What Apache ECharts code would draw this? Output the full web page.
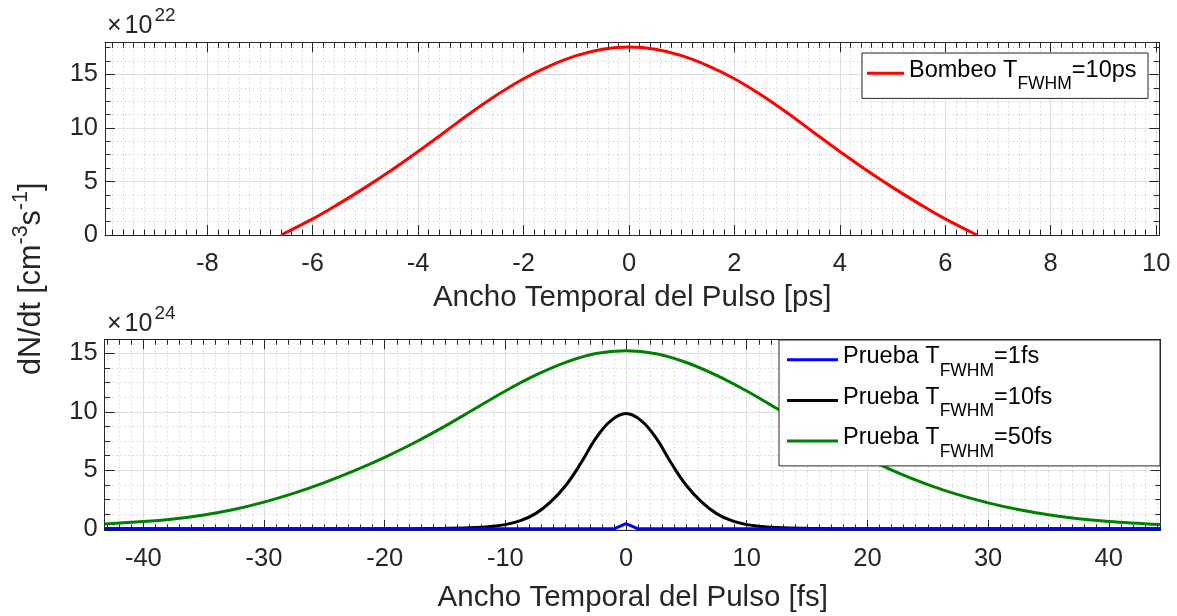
<!DOCTYPE html>
<html>
<head>
<meta charset="utf-8">
<title>dN/dt</title>
<script src="https://cdn.jsdelivr.net/npm/echarts@6/dist/echarts.min.js"></script>
<style>
  html, body { margin: 0; padding: 0; background: #ffffff; }
  #chart { width: 1177px; height: 616px; }
</style>
</head>
<body>
<div id="chart"></div>
<script>
// ---- Pump pulse, time in ps, rate in units of 1e22 cm^-3 s^-1 ----
const pumpTimePs = [-6.6, -6, -5.5, -5, -4.5, -4, -3.5, -3, -2.5, -2, -1.5, -1, -0.5, 0,
                    0.5, 1, 1.5, 2, 2.5, 3, 3.5, 4, 4.5, 5, 5.5, 6, 6.6];
const pumpRate   = [0, 1.5, 2.93, 4.45, 6.07, 7.8, 9.6, 11.42, 13.1, 14.6, 15.8, 16.75, 17.35, 17.55,
                    17.35, 16.75, 15.8, 14.6, 13.1, 11.42, 9.6, 7.8, 6.07, 4.45, 2.93, 1.5, 0];

// ---- Probe pulses, time in fs, rate in units of 1e24 cm^-3 s^-1 ----
const probe1Time = [-43.2, -1, 0, 1, 44.3];
const probe1Rate = [0, 0, 0.45, 0, 0];

const probe10Time = [-43.2, -20, -17.5, -15, -12.5, -11.25, -10, -8.75, -7.5, -6.25, -5, -3.75, -2.5, -1.25, 0,
                     1.25, 2.5, 3.75, 5, 6.25, 7.5, 8.75, 10, 11.25, 12.5, 15, 17.5, 20, 44.3];
const probe10Rate = [0, 0, 0.01, 0.04, 0.11, 0.2, 0.36, 0.7, 1.3, 2.3, 3.7, 5.6, 7.75, 9.25, 9.85,
                     9.25, 7.75, 5.6, 3.7, 2.3, 1.3, 0.7, 0.36, 0.2, 0.11, 0.04, 0.01, 0, 0];

const probe50Time = [-43.2, -40, -37.5, -35, -32.5, -30, -27.5, -25, -22.5, -20, -17.5, -15, -12.5,
                     -10, -7.5, -5, -2.5, 0, 2.5, 5, 7.5, 10, 12.5, 15, 17.5, 20, 22.5, 25, 27.5,
                     30, 32.5, 35, 37.5, 40, 44.3];
const probe50Rate = [0.42, 0.62, 0.85, 1.18, 1.65, 2.28, 3.05, 3.95, 4.97, 6.11, 7.38, 8.78, 10.28,
                     11.78, 13.13, 14.23, 14.98, 15.22, 14.97, 14.22, 13.12, 11.78, 10.28, 8.78, 7.33,
                     6.0, 4.8, 3.78, 2.92, 2.22, 1.65, 1.2, 0.87, 0.63, 0.36];

// ---- Labels ----
const seriesNames = ['Bombeo 10ps', 'Prueba 1fs', 'Prueba 10fs', 'Prueba 50fs'];
const legendLabels = {
  'Bombeo 10ps': '{m|Bombeo T}{s|FWHM}{m|=10ps}',
  'Prueba 1fs':  '{m|Prueba T}{s|FWHM}{m|=1fs}',
  'Prueba 10fs': '{m|Prueba T}{s|FWHM}{m|=10fs}',
  'Prueba 50fs': '{m|Prueba T}{s|FWHM}{m|=50fs}'
};
const xTitles = ['Ancho Temporal del Pulso [ps]', 'Ancho Temporal del Pulso [fs]'];
const yTitle = '{m|dN/dt [cm}{p|-3}{m|s}{p|-1}{m|]}';
const exponents = ['22', '24'];

// ---- Styling ----
const AX = '#262626';
const FONT = '"Liberation Sans", Arial, Helvetica, sans-serif';
const MAJOR_GRID = '#dfdfdf';
const MINOR_GRID = '#c2c2c2';

const zip = (xs, ys) => xs.map((x, i) => [x, ys[i]]);
const tickFmt = step => v =>
  Math.abs(v / step - Math.round(v / step)) < 1e-6 ? String(Math.round(v)) : '';

const panels = [
  { grid: { left: 105, top: 42.3, width: 1054.3, height: 192.7 },
    x: { min: -9.94, max: 10.06, step: 2, minor: 10, name: xTitles[0], gap: 48 },
    y: { min: 0, max: 18, step: 5, minor: 4 } },
  { grid: { left: 104.7, top: 339.3, width: 1056, height: 190.7 },
    x: { min: -43.2, max: 44.3, step: 10, minor: 10, name: xTitles[1], gap: 53 },
    y: { min: -0.1, max: 16.2, step: 5, minor: 4 } }
];

function makeAxis(gridIndex, cfg, position, primary) {
  const horizontal = position === 'bottom' || position === 'top';
  return {
    type: 'value', gridIndex, position,
    min: cfg.min, max: cfg.max, minInterval: cfg.step, maxInterval: cfg.step,
    axisLine: { show: true, onZero: false, lineStyle: { color: AX, width: 1 } },
    axisTick: { show: true, inside: true, length: 10, lineStyle: { color: AX, width: 1 } },
    minorTick: { show: true, splitNumber: cfg.minor, length: 5.5, lineStyle: { color: AX, width: 1 } },
    axisLabel: primary ? {
      show: true, margin: horizontal ? 15.5 : 7, color: AX, fontSize: 25.5, fontFamily: FONT,
      formatter: tickFmt(cfg.step), hideOverlap: false
    } : { show: false },
    splitLine: { show: primary, lineStyle: { color: MAJOR_GRID, width: 1 } },
    minorSplitLine: { show: primary, lineStyle: { color: MINOR_GRID, width: 1, type: [1, 3] } },
    name: primary && horizontal ? cfg.name : '',
    nameLocation: 'middle', nameGap: cfg.gap || 0,
    nameTextStyle: { color: AX, fontSize: 29.5, fontFamily: FONT }
  };
}

const grids = panels.map(p => Object.assign({ outerBoundsMode: 'none', containLabel: false }, p.grid));
const xAxes = [], yAxes = [];
panels.forEach((p, i) => {
  xAxes.push(makeAxis(i, p.x, 'bottom', true), makeAxis(i, p.x, 'top', false));
  yAxes.push(makeAxis(i, p.y, 'left', true), makeAxis(i, p.y, 'right', false));
});

const lineSeries = (name, axisIdx, xs, ys, color, smooth, z) => ({
  type: 'line', name, xAxisIndex: axisIdx, yAxisIndex: axisIdx,
  data: zip(xs, ys), showSymbol: false, symbol: 'none', smooth,
  lineStyle: { color, width: 3 }, itemStyle: { color }, z
});

const legendRich = {
  m: { fontSize: 23.5, fontFamily: FONT, color: '#000', padding: [0, 0, 6, 0] },
  s: { fontSize: 17.5, fontFamily: FONT, color: '#000', padding: [22.2, 0, 0, 0] }
};
const legendBase = {
  orient: 'vertical', icon: 'rect', itemHeight: 3, selectedMode: false,
  backgroundColor: '#ffffff', borderColor: AX, borderWidth: 1, borderRadius: 0,
  textStyle: { color: '#000', fontSize: 23.5, fontFamily: FONT, rich: legendRich },
  formatter: name => legendLabels[name], z: 10
};

// superscript exponent next to the x10 multiplier
const multiplier = (y, exp) => ({
  type: 'text', x: 107, y,
  style: {
    text: '{a|×}{b|10}{c|' + exp + '}', align: 'left', verticalAlign: 'middle', fill: AX,
    rich: {
      a: { fontSize: 25, fontFamily: FONT, color: AX },
      b: { fontSize: 25, fontFamily: FONT, color: AX, padding: [0, 0, 0, 3] },
      c: { fontSize: 19, fontFamily: FONT, color: AX, padding: [0, 0, 21, 2] }
    }
  }
});

const option = {
  animation: false,
  backgroundColor: '#ffffff',
  grid: grids,
  xAxis: xAxes,
  yAxis: yAxes,
  legend: [
    Object.assign({}, legendBase, {
      data: [seriesNames[0]], left: 862, top: 53, itemWidth: 37,
      padding: [5.15, 11.5, 5.15, 5]
    }),
    Object.assign({}, legendBase, {
      data: seriesNames.slice(1), left: 779, top: 340, itemWidth: 51, itemGap: 5.45,
      padding: [4.85, 107.8, 4.85, 8]
    })
  ],
  series: [
    lineSeries(seriesNames[0], 0, pumpTimePs, pumpRate, '#ff0000', 0.4, 3),
    lineSeries(seriesNames[1], 2, probe1Time, probe1Rate, '#0000ff', false, 5),
    lineSeries(seriesNames[2], 2, probe10Time, probe10Rate, '#000000', 0.4, 3),
    lineSeries(seriesNames[3], 2, probe50Time, probe50Rate, '#008000', 0.35, 4)
  ],
  graphic: [
    multiplier(26.3, exponents[0]),
    multiplier(324.6, exponents[1]),
    { type: 'text', x: 31.5, y: 375, rotation: Math.PI / 2,
      style: { text: yTitle, fill: AX, align: 'left', verticalAlign: 'middle',
        rich: {
          m: { fontSize: 30.5, fontFamily: FONT, color: AX },
          p: { fontSize: 21.5, fontFamily: FONT, color: AX, padding: [0, 0, 20.5, 0] }
        } } }
  ]
};

const chart = echarts.init(document.getElementById('chart'), null, { renderer: 'canvas' });
chart.setOption(option);
</script>
</body>
</html>
